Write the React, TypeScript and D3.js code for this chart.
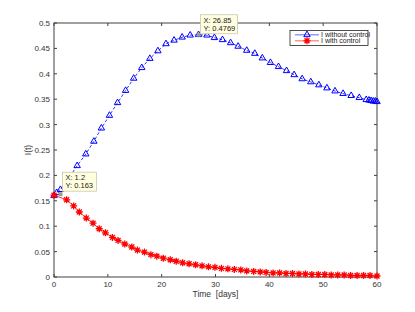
import React from 'react';
import * as d3 from 'd3';

// I(t) without control (blue triangles)
const tWithout = [0, 0.5, 1.2, 2.5, 4.3, 5.9, 7.4, 8.8, 10.3, 11.8, 13.3, 14.8, 16.3, 17.8, 19.3, 20.8, 22.3, 23.8, 25.3, 26.85, 28.4, 29.8, 31.3, 32.8, 34.2, 35.8, 37.3, 38.7, 40.2, 41.7, 43.2, 44.6, 46.1, 47.7, 49.2, 50.7, 52.2, 53.7, 55.2, 56.7, 58.0, 58.5, 58.9, 59.3, 59.7, 60];
const iWithout = [0.160, 0.166, 0.172, 0.191, 0.219, 0.242, 0.267, 0.293, 0.318, 0.343, 0.367, 0.391, 0.412, 0.430, 0.445, 0.459, 0.466, 0.472, 0.476, 0.4769, 0.476, 0.471, 0.467, 0.461, 0.454, 0.446, 0.440, 0.431, 0.422, 0.414, 0.406, 0.398, 0.390, 0.384, 0.378, 0.372, 0.366, 0.361, 0.357, 0.353, 0.349, 0.348, 0.347, 0.346, 0.346, 0.345];

// I(t) with control (red stars)
const tWith = [0, 2.35, 3.65, 4.7, 6.0, 7.25, 8.4, 9.55, 10.85, 11.9, 13.15, 14.45, 15.5, 16.8, 18.0, 19.1, 20.3, 21.6, 22.7, 23.9, 25.1, 26.3, 27.5, 28.7, 29.9, 31.1, 32.3, 33.5, 34.7, 35.8, 37.1, 38.3, 39.4, 40.7, 41.9, 43.1, 44.3, 45.5, 46.7, 47.9, 49.1, 50.3, 51.5, 52.7, 53.9, 55.1, 56.3, 57.5, 58.7, 60];
const iWith = [0.161, 0.152, 0.140, 0.128, 0.116, 0.106, 0.095, 0.087, 0.078, 0.072, 0.065, 0.059, 0.053, 0.049, 0.044, 0.041, 0.037, 0.034, 0.031, 0.028, 0.026, 0.024, 0.022, 0.020, 0.019, 0.017, 0.016, 0.015, 0.014, 0.012, 0.011, 0.010, 0.009, 0.008, 0.008, 0.007, 0.007, 0.006, 0.006, 0.005, 0.005, 0.005, 0.004, 0.004, 0.004, 0.003, 0.003, 0.003, 0.003, 0.002];

const xTicks = [0, 10, 20, 30, 40, 50, 60];
const yTicks = [0, 0.05, 0.1, 0.15, 0.2, 0.25, 0.3, 0.35, 0.4, 0.45, 0.5];
const legendLabels = ['I without control', 'I with control'];
const dataTips = [
  { x: 26.85, y: 0.4769, text: ['X: 26.85', 'Y: 0.4769'] },
  { x: 1.2, y: 0.163, text: ['X: 1.2', 'Y: 0.163'] },
];

const W = 415, H = 312;
const m = { left: 54, right: 377, top: 23, bottom: 277 };
const font = '"Liberation Sans", Arial, sans-serif';
const axisColor = '#404040';

// MATLAB style '*' marker: plus + cross
const starSymbol = {
  draw(ctx: any, size: number) {
    const r = Math.sqrt(size) / 2;
    const d = r * 0.7071;
    ctx.moveTo(-r, 0); ctx.lineTo(r, 0);
    ctx.moveTo(0, -r); ctx.lineTo(0, r);
    ctx.moveTo(-d, -d); ctx.lineTo(d, d);
    ctx.moveTo(-d, d); ctx.lineTo(d, -d);
  },
};

const App = () => {
  const x = d3.scaleLinear().domain([0, 60]).range([m.left, m.right]);
  const y = d3.scaleLinear().domain([0, 0.5]).range([m.bottom, m.top]);

  const line = d3.line<[number, number]>().x(d => x(d[0])).y(d => y(d[1]));
  const blue = tWithout.map((t, i) => [t, iWithout[i]] as [number, number]);
  const red = tWith.map((t, i) => [t, iWith[i]] as [number, number]);

  const tri = d3.symbol().type(d3.symbolTriangle).size(18)()!;
  const star = d3.symbol().type(starSymbol as any).size(49)()!;

  return (
    <div style={{ position: 'fixed', left: 0, top: 0 }}>
      <svg width={W} height={H} style={{ display: 'block', background: '#fff' }} fontFamily={font}>
        {/* axes box */}
        <rect x={m.left} y={m.top} width={m.right - m.left} height={m.bottom - m.top}
          fill="none" stroke={axisColor} strokeWidth={1} />
        {xTicks.map(t => (
          <g key={'x' + t}>
            <line x1={x(t)} x2={x(t)} y1={m.bottom} y2={m.bottom - 3} stroke={axisColor} />
            <line x1={x(t)} x2={x(t)} y1={m.top} y2={m.top + 3} stroke={axisColor} />
            <text x={x(t)} y={m.bottom + 10} fontSize={8} textAnchor="middle" fill="#333">{t}</text>
          </g>
        ))}
        {yTicks.map(t => (
          <g key={'y' + t}>
            <line x1={m.left} x2={m.left + 3} y1={y(t)} y2={y(t)} stroke={axisColor} />
            <line x1={m.right} x2={m.right - 3} y1={y(t)} y2={y(t)} stroke={axisColor} />
            <text x={m.left - 4} y={y(t) + 3} fontSize={8} textAnchor="end" fill="#333">{d3.format('~g')(t)}</text>
          </g>
        ))}
        <text x={(m.left + m.right) / 2} y={m.bottom + 20} fontSize={8.5} textAnchor="middle" fill="#333"
          style={{ whiteSpace: 'pre' }}>{'Time  [days]'}</text>
        <text transform={`translate(${m.left - 23},${(m.top + m.bottom) / 2}) rotate(-90)`} fontSize={8.5}
          textAnchor="middle" fill="#333">I(t)</text>

        {/* series */}
        <path d={line(blue)!} fill="none" stroke="#0000ff" strokeWidth={0.8} strokeDasharray="3,2" />
        {blue.map((d, i) => (
          <path key={'b' + i} d={tri} transform={`translate(${x(d[0])},${y(d[1])})`}
            fill="none" stroke="#0000ff" strokeWidth={1} />
        ))}
        <path d={line(red)!} fill="none" stroke="#ff0000" strokeWidth={0.8} />
        {red.map((d, i) => (
          <path key={'r' + i} d={star} transform={`translate(${x(d[0])},${y(d[1])})`}
            fill="none" stroke="#ff0000" strokeWidth={1.3} />
        ))}

        {/* data tips */}
        {dataTips.map((d, i) => {
          const px = x(d.x), py = y(d.y);
          const bx = px + 2, by = i === 0 ? py - 20 : py - 22;
          return (
            <g key={'dt' + i}>
              <rect x={px - 2} y={py - 2} width={4} height={4} fill="#999" />
              <rect x={bx} y={by} width={i === 0 ? 37 : 34} height={19} fill="#ffffe0" stroke="#c8c8b0" strokeWidth={0.8} />
              <text x={bx + 3} y={by + 8} fontSize={7.5} fill="#222">{d.text[0]}</text>
              <text x={bx + 3} y={by + 16} fontSize={7.5} fill="#222">{d.text[1]}</text>
            </g>
          );
        })}

        {/* legend */}
        <g>
          <rect x={290} y={30.5} width={78} height={15} fill="#fff" stroke="#222" strokeWidth={0.8} />
          <line x1={295} x2={319} y1={34.8} y2={34.8} stroke="#7a7aff" strokeWidth={1.2} />
          <path d={tri} transform="translate(307,34.8)" fill="none" stroke="#0000ff" strokeWidth={1} />
          <line x1={295} x2={319} y1={40.8} y2={40.8} stroke="#ff7a7a" strokeWidth={1.2} />
          <path d={star} transform="translate(307,40.8)" fill="none" stroke="#ff0000" strokeWidth={1.3} />
          {legendLabels.map((l, i) => (
            <text key={l} x={321} y={37.3 + i * 6} fontSize={7} fill="#222">{l}</text>
          ))}
        </g>
      </svg>
    </div>
  );
};

export default App;
